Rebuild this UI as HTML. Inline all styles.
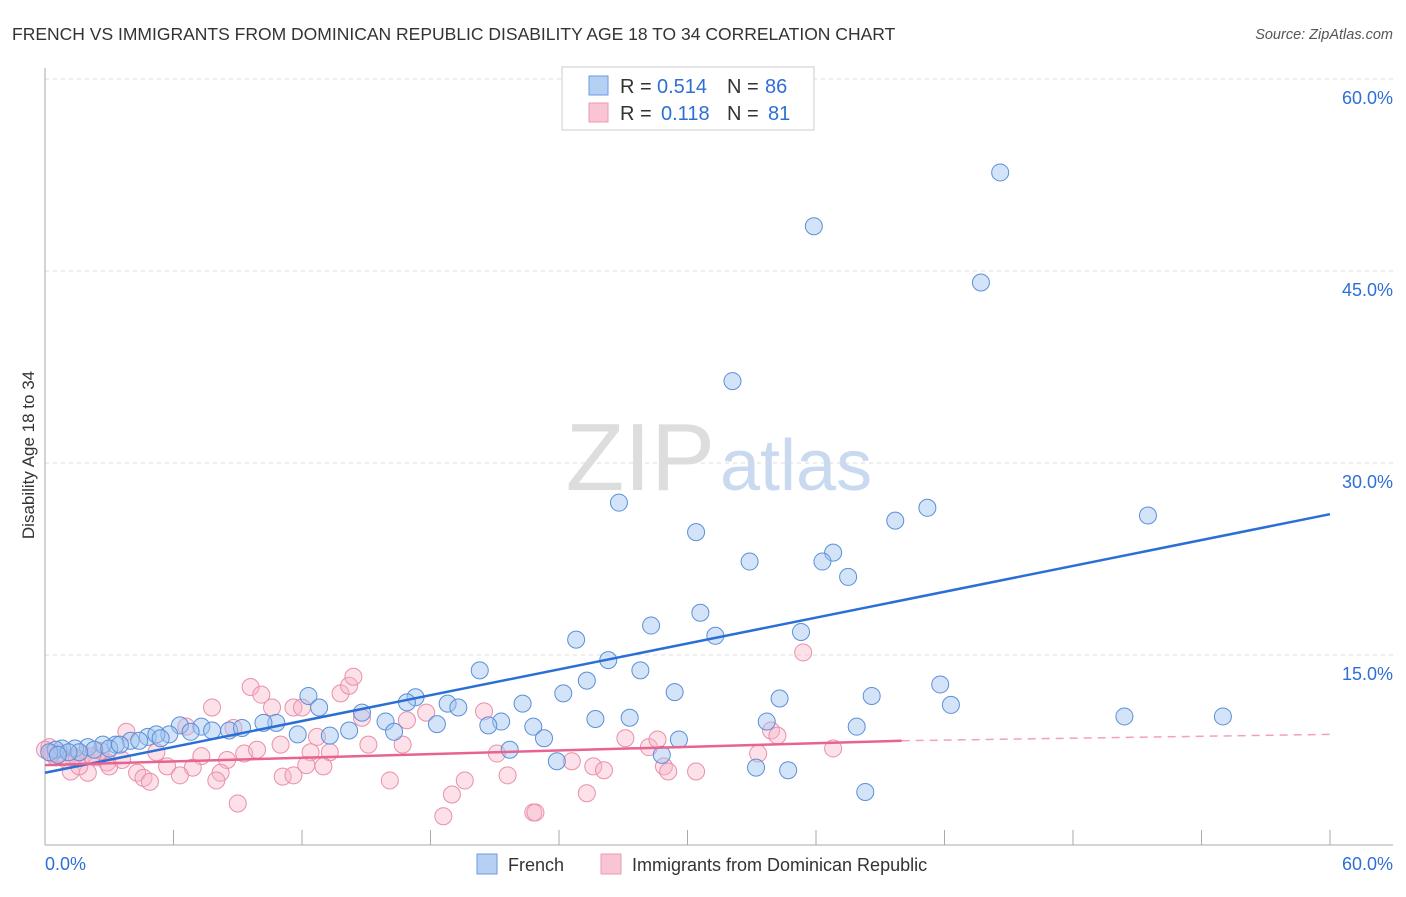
<!DOCTYPE html>
<html><head><meta charset="utf-8"><style>
body{margin:0;background:#fff;font-family:"Liberation Sans",sans-serif}
svg text{font-family:"Liberation Sans",sans-serif}
</style></head><body>
<svg id="c" width="1406" height="892">
<text x="12" y="40" font-size="17.5" fill="#333">FRENCH VS IMMIGRANTS FROM DOMINICAN REPUBLIC DISABILITY AGE 18 TO 34 CORRELATION CHART</text>
<text x="1393" y="39" font-size="14.5" fill="#555" font-style="italic" text-anchor="end">Source: ZipAtlas.com</text>
<text x="715" y="490" font-size="96" fill="#ddd" text-anchor="end" font-family="Liberation Serif">ZIP</text>
<text x="720" y="490" font-size="72" fill="#c9d9f0">atlas</text>
<g id="grid"></g>
<g id="pts"></g>
<g id="lines"></g>
<text transform="translate(34,455) rotate(-90)" font-size="17" fill="#333" text-anchor="middle">Disability Age 18 to 34</text>
<g>
<rect x="562" y="67" width="252" height="63" fill="#fff" stroke="#ccc"/>
<rect x="589" y="76" width="19" height="19" fill="#b6d0f3" stroke="#6a9ae0"/>
<rect x="589" y="103" width="19" height="19" fill="#f9c4d3" stroke="#ec9ab2"/>
<text x="620" y="93" font-size="20" fill="#333">R =</text>
<text x="657" y="93" font-size="20" fill="#2e6fd6">0.514</text>
<text x="727" y="93" font-size="20" fill="#333">N =</text>
<text x="765" y="93" font-size="20" fill="#2e6fd6">86</text>
<text x="620" y="120" font-size="20" fill="#333">R =</text>
<text x="661" y="120" font-size="20" fill="#2e6fd6">0.118</text>
<text x="727" y="120" font-size="20" fill="#333">N =</text>
<text x="768" y="120" font-size="20" fill="#2e6fd6">81</text>
</g>
<g>
<rect x="477" y="854" width="20" height="20" fill="#b6d0f3" stroke="#6a9ae0"/>
<text x="508" y="871" font-size="18" fill="#333">French</text>
<rect x="601" y="854" width="20" height="20" fill="#f9c4d3" stroke="#ec9ab2"/>
<text x="632" y="871" font-size="18" fill="#333">Immigrants from Dominican Republic</text>
</g>
</svg>
<script>
const blueX=[44.6,35.9,43.7,32.1,26.8,30.4,41.2,39.7,51.5,32.9,36.8,36.3,37.5,30.6,28.3,24.8,31.3,35.3,26.3,27.8,20.3,25.3,41.8,24.2,29.4,34.3,38.6,12.3,17.3,16.9,22.3,18.8,42.3,19.3,12.8,50.4,55.0,25.7,27.3,14.8,18.3,15.9,21.3,20.7,33.7,37.9,22.8,10.8,11.8,14.2,10.2,7.3,6.3,8.6,7.8,9.2,13.3,16.3,23.3,21.7,23.9,29.6,28.8,33.2,34.7,38.3,6.8,5.8,4.8,5.2,4.0,3.3,2.7,2.0,1.4,0.8,0.5,0.2,2.3,1.6,1.1,0.6,3.0,3.5,4.4,5.4];
const blueY=[52.7,48.5,44.1,36.4,26.9,24.6,26.5,25.5,25.9,22.3,23.0,22.3,21.1,18.3,17.3,16.2,16.5,16.8,14.6,13.8,13.8,13.0,12.7,12.0,12.1,11.6,11.8,11.8,11.7,11.3,11.2,11.2,11.1,10.9,10.9,10.2,10.2,10.0,10.1,10.5,9.6,9.8,9.8,9.5,9.8,9.4,9.4,9.7,8.8,9.1,9.7,9.4,9.5,9.1,9.1,9.3,8.7,9.0,8.5,7.6,6.7,8.4,7.2,6.2,6.0,4.3,9.0,8.8,8.6,8.8,8.3,8.0,8.0,7.8,7.7,7.7,7.6,7.4,7.6,7.4,7.4,7.2,7.7,8.0,8.3,8.5];
const pinkX=[9.6,10.1,7.8,10.6,11.6,12.0,13.8,14.2,14.4,14.8,16.9,17.8,20.5,3.8,6.6,8.8,11.0,12.7,15.1,16.7,5.2,7.3,8.5,9.3,9.9,12.4,13.3,21.1,21.6,5.7,6.9,8.2,6.3,4.3,4.6,4.9,8.0,11.1,11.6,12.2,13.0,16.1,9.0,19.0,19.6,18.6,22.8,0.2,0.7,1.2,2.0,1.6,2.9,3.0,1.3,2.4,3.6,27.1,28.2,28.6,24.6,25.6,26.1,25.3,28.9,29.1,30.4,33.9,34.2,33.3,36.8,35.4,22.9,0.0,0.5,1.0,1.8,2.6,0.3,1.5,2.2];
const pinkY=[12.5,11.9,10.9,10.9,10.9,10.9,12.0,12.6,13.3,10.1,9.9,10.5,10.6,9.0,9.4,9.3,8.0,8.6,8.0,8.0,7.4,7.1,6.8,7.3,7.6,7.4,7.4,7.3,5.6,6.3,6.2,5.8,5.6,5.8,5.4,5.1,5.2,5.5,5.6,6.4,6.3,5.2,3.4,4.1,5.2,2.4,2.7,7.8,7.3,5.9,5.8,6.3,6.6,6.3,7.0,7.0,6.8,8.5,7.8,8.4,6.7,6.3,6.0,4.2,6.3,5.9,5.9,9.1,8.7,7.3,7.7,15.2,2.7,7.6,7.0,6.8,7.2,7.5,7.3,6.9,7.1];
const blueLine=[0,5.8,60,26.0];
const pinkLine=[0,6.4,40,8.3,60,8.8];
const yTicks=[15,30,45,60];
const xTicksMinor=[0,6,12,18,24,30,36,42,48,54,60];
const NS='http://www.w3.org/2000/svg';
const X=v=>45+v*1285/60, Y=v=>847-v*192/15;
function mk(t,a,p){const e=document.createElementNS(NS,t);for(const k in a)e.setAttribute(k,a[k]);p.appendChild(e);return e;}
const g=document.getElementById('grid');
yTicks.forEach(t=>{
 const l=mk('line',{x1:45,x2:1393,y1:Y(t),y2:Y(t),stroke:'#ddd','stroke-dasharray':'4,4'},g);
 
 
 const tx=mk('text',{x:1393,y:Y(t)+25,'font-size':18,fill:'#2e6fd6','text-anchor':'end'},g);
 tx.textContent=t.toFixed(1)+'%';
 
 
});
mk('line',{x1:45,x2:45,y1:68,y2:845,stroke:'#aaa'},g);
mk('line',{x1:45,x2:1393,y1:845,y2:845,stroke:'#aaa'},g);
xTicksMinor.forEach(t=>{
 const l=mk('line',{x1:X(t),x2:X(t),y1:830,y2:845,stroke:'#aaa'},g);
 
 
});
const xl=mk('text',{x:45,y:870,'font-size':18,fill:'#2e6fd6'},g);xl.textContent='0.0%';


const xr=mk('text',{x:1393,y:870,'font-size':18,fill:'#2e6fd6','text-anchor':'end'},g);xr.textContent='60.0%';


const p=document.getElementById('pts');
pinkX.forEach((v,i)=>{
 const c=mk('circle',{cx:X(v),cy:Y(pinkY[i]),r:8.5,fill:'rgba(248,180,200,0.4)',stroke:'#ea8fab','stroke-width':1},p);
 
 
});
blueX.forEach((v,i)=>{
 const c=mk('circle',{cx:X(v),cy:Y(blueY[i]),r:8.5,fill:'rgba(160,196,240,0.45)',stroke:'#5b8fd8','stroke-width':1},p);
 
 
});
const L=document.getElementById('lines');
const bl=mk('line',{x1:X(blueLine[0]),y1:Y(blueLine[1]),x2:X(blueLine[2]),y2:Y(blueLine[3]),stroke:'#2a6fd6','stroke-width':2.5},L);


const pl=mk('line',{x1:X(pinkLine[0]),y1:Y(pinkLine[1]),x2:X(pinkLine[2]),y2:Y(pinkLine[3]),stroke:'#e8638f','stroke-width':2.5},L);


const pd=mk('line',{x1:X(pinkLine[2]),y1:Y(pinkLine[3]),x2:X(pinkLine[4]),y2:Y(pinkLine[5]),stroke:'#e8638f','stroke-width':1.5,'stroke-dasharray':'8,6',opacity:0.6},L);


</script>
</body></html>
